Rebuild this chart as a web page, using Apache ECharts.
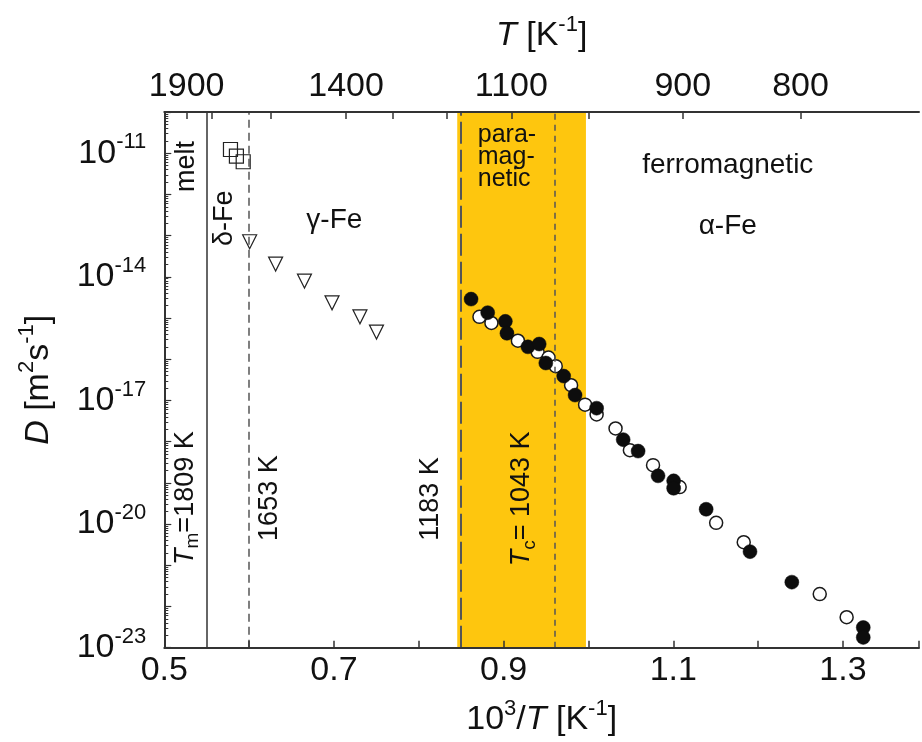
<!DOCTYPE html>
<html><head><meta charset="utf-8">
<script src="https://cdn.jsdelivr.net/npm/echarts@6/dist/echarts.min.js"></script>
<style>html,body{margin:0;padding:0;background:#fff}#c{width:922px;height:742px}</style>
</head><body><div id="c"></div>
<script>
// ---- data ----
// delta-Fe (open squares)
const deltaX = [0.578, 0.585, 0.593];
const deltaD = [1.23e-11, 8.5e-12, 6.2e-12];
// gamma-Fe (open down triangles)
const gammaX = [0.6006, 0.6312, 0.6652, 0.6977, 0.7306, 0.7501];
const gammaD = [7.1e-14, 2.04e-14, 7.9e-15, 2.34e-15, 1.07e-15, 4.57e-16];
// alpha-Fe, filled circles
const alphaFilledX = [0.8616, 0.8812, 0.9020, 0.9039, 0.9286, 0.9419, 0.9497, 0.9708, 0.9842, 1.0096, 1.0409, 1.0585, 1.0820, 1.1004, 1.1004, 1.1387, 1.1904, 1.2397, 1.3239, 1.3239];
const alphaFilledD = [2.88e-15, 1.35e-15, 8.3e-16, 4.27e-16, 2.0e-16, 2.34e-16, 8.1e-17, 3.9e-17, 1.35e-17, 6.5e-18, 1.12e-18, 5.9e-19, 1.48e-19, 1.12e-19, 7.4e-20, 2.29e-20, 2.14e-21, 3.9e-22, 3.09e-23, 1.78e-23];
// alpha-Fe, open circles
const alphaOpenX = [0.8715, 0.8856, 0.9168, 0.9400, 0.9529, 0.9614, 0.9795, 0.9960, 1.0096, 1.0319, 1.0488, 1.0761, 1.1075, 1.1505, 1.1830, 1.2726, 1.3043];
const alphaOpenD = [1.07e-15, 7.6e-16, 2.82e-16, 1.51e-16, 1.10e-16, 6.8e-17, 2.34e-17, 7.9e-18, 4.57e-18, 2.09e-18, 6.2e-19, 2.69e-19, 7.9e-20, 1.07e-20, 3.63e-21, 2.0e-22, 5.5e-23];
// transition temperatures [K]
const T_melt = 1809, T_delta = 1653, T_gamma = 1183, T_curie = 1043, T_paraEnd = 1003;
// tick labels
const xTickLabels = [0.5, 0.7, 0.9, 1.1, 1.3];
const topLabelT = [1900, 1400, 1100, 900, 800];
const topTickT = [1900, 1800, 1600, 1400, 1300, 1200, 1100, 1000, 900, 800];
const yLabelExp = [-23, -20, -17, -14, -11];

// ---- styling ----
const FONT = '"Liberation Sans", Arial, Helvetica, sans-serif';
const TXT = '#111';
const AX = '#333';
const X_MIN = 0.5, X_MAX = 1.3896;
const rich34 = {
  n: {fontSize: 34, fontFamily: FONT, color: TXT, lineHeight: 44},
  i: {fontSize: 34, fontFamily: FONT, color: TXT, fontStyle: 'italic', lineHeight: 44},
  s: {fontSize: 22, fontFamily: FONT, color: TXT, lineHeight: 24, verticalAlign: 'top'}
};
const rich27 = {
  n: {fontSize: 27, fontFamily: FONT, color: TXT, lineHeight: 34},
  i: {fontSize: 27, fontFamily: FONT, color: TXT, fontStyle: 'italic', lineHeight: 34},
  b: {fontSize: 19, fontFamily: FONT, color: TXT, lineHeight: 20, verticalAlign: 'bottom'}
};

// the y axis is a base-10 logarithmic axis: values are plotted as log10(D)
const L = Math.log10;
const minorY = [];
for (let k = -23; k <= -11; k++) for (let m = 2; m <= 9; m++) minorY.push(k + L(m));

const annotations = [
  {t: 'melt', x: 0.5267, e: -11.32, rot: 90, fs: 27},
  {t: 'δ-Fe', x: 0.5713, e: -12.58, rot: 90, fs: 27},
  {t: 'γ-Fe', x: 0.7004, e: -12.63, rot: 0, fs: 28},
  {t: 'para-\nmag-\nnetic', x: 0.8695, e: -11.09, rot: 0, fs: 25, align: 'left', lh: 22},
  {t: 'ferromagnetic', x: 1.1642, e: -11.29, rot: 0, fs: 28},
  {t: 'α-Fe', x: 1.1642, e: -12.77, rot: 0, fs: 28},
  {r: '{i|T}{b|m}{n|=1809 K}', x: 0.5245, e: -19.37, rot: 90},
  {t: '1653 K', x: 0.6241, e: -19.37, rot: 90, fs: 27},
  {t: '1183 K', x: 0.8143, e: -19.39, rot: 90, fs: 27},
  {r: '{i|T}{b|c}{n|= 1043 K}', x: 0.9215, e: -19.39, rot: 90}
];

const annData = annotations.map(a => ({
  value: [a.x, a.e],
  label: a.r ? {
    show: true, position: 'inside', rotate: a.rot, formatter: a.r, rich: rich27,
    opacity: 1, textBorderWidth: 0
  } : {
    show: true, position: 'inside', rotate: a.rot, formatter: a.t,
    fontSize: a.fs, fontFamily: FONT, color: TXT, opacity: 1, textBorderWidth: 0,
    align: a.align || 'center', verticalAlign: 'middle',
    lineHeight: a.lh || Math.round(a.fs * 1.2)
  }
}));

const zipLog = (xs, ds) => xs.map((x, i) => [x, L(ds[i])]);

const option = {
  animation: false,
  backgroundColor: '#fff',
  grid: {left: 164.3, top: 112, right: 0, bottom: 94.3, containLabel: false},
  xAxis: [
    {
      type: 'value', position: 'bottom', min: X_MIN, max: X_MAX, interval: 0.1, z: 10,
      axisLine: {show: true, lineStyle: {color: AX, width: 2}},
      axisTick: {show: true, inside: true, length: 7, lineStyle: {color: AX, width: 1.5}},
      splitLine: {show: false},
      axisLabel: {
        margin: 6, fontSize: 34, fontFamily: FONT, color: TXT,
        formatter: v => xTickLabels.some(t => Math.abs(t - v) < 1e-6) ? v.toFixed(1) : ''
      },
      name: '{n|10}{s|3}{n|/}{i|T}{n| [K}{s|-1}{n|]}',
      nameLocation: 'middle', nameGap: 50,
      nameTextStyle: {rich: rich34}
    },
    {
      type: 'value', position: 'top', min: X_MIN, max: X_MAX, z: 10,
      axisLine: {show: true, lineStyle: {color: AX, width: 2}},
      axisTick: {show: true, inside: true, length: 7, lineStyle: {color: AX, width: 1.5},
        customValues: topTickT.map(T => 1000 / T)},
      splitLine: {show: false},
      axisLabel: {
        margin: 8, fontSize: 34, fontFamily: FONT, color: TXT,
        customValues: topLabelT.map(T => 1000 / T),
        formatter: v => String(Math.round(1000 / v))
      },
      name: '{i|T}{n| [K}{s|-1}{n|]}',
      nameLocation: 'middle', nameGap: 54,
      nameTextStyle: {rich: rich34}
    }
  ],
  yAxis: [
    {
      type: 'value', min: -23, max: -10, interval: 1, position: 'left', z: 10,
      axisLine: {show: true, lineStyle: {color: AX, width: 2}},
      axisTick: {show: true, inside: true, length: 7, lineStyle: {color: AX, width: 1.2}},
      splitLine: {show: false},
      axisLabel: {
        margin: 18,
        formatter: v => {
          const e = Math.round(v);
          return yLabelExp.includes(e) ? '{n|10}{s|' + e + '}' : '';
        },
        rich: rich34
      },
      name: '{i|D}{n| [m}{s|2}{n|s}{s|-1}{n|]}',
      nameLocation: 'middle', nameGap: 104, nameRotate: 90,
      nameTextStyle: {rich: rich34}
    },
    {
      type: 'value', min: -23, max: -10, position: 'left', z: 10,
      axisLine: {show: false},
      axisTick: {show: true, inside: true, length: 4, lineStyle: {color: AX, width: 1},
        customValues: minorY},
      axisLabel: {show: false},
      splitLine: {show: false}
    }
  ],
  series: [
    {
      name: 'guides', type: 'scatter', data: [], z: 1, silent: true,
      markArea: {
        silent: true,
        itemStyle: {color: '#FEC60E', opacity: 1},
        data: [[{xAxis: 1000 / T_gamma}, {xAxis: 1000 / T_paraEnd}]]
      },
      markLine: {
        silent: true, symbol: ['none', 'none'], label: {show: false},
        data: [
          {xAxis: 1000 / T_melt, lineStyle: {color: '#333', width: 1.5, type: 'solid', opacity: 1}},
          {xAxis: 1000 / T_delta, lineStyle: {color: '#555', width: 1.5, type: [8, 5], opacity: 1}},
          {xAxis: 1000 / T_gamma, lineStyle: {color: '#555', width: 2, type: [22, 6], opacity: 1}},
          {xAxis: 1000 / T_curie, lineStyle: {color: '#555', width: 1.5, type: [6, 5], opacity: 1}}
        ]
      }
    },
    {
      name: 'alpha open', type: 'scatter', z: 3, symbol: 'circle', symbolSize: 13,
      itemStyle: {color: '#fff', borderColor: '#1a1a1a', borderWidth: 1.5, opacity: 1},
      data: zipLog(alphaOpenX, alphaOpenD)
    },
    {
      name: 'alpha filled', type: 'scatter', z: 4, symbol: 'circle', symbolSize: 14,
      itemStyle: {color: '#0d0d0d', borderColor: '#0d0d0d', borderWidth: 0.5, opacity: 1},
      data: zipLog(alphaFilledX, alphaFilledD)
    },
    {
      name: 'delta', type: 'scatter', z: 4, symbol: 'rect', symbolSize: 14,
      itemStyle: {color: 'rgba(255,255,255,0)', borderColor: '#222', borderWidth: 1.2, opacity: 1},
      data: zipLog(deltaX, deltaD)
    },
    {
      name: 'gamma', type: 'scatter', z: 4, symbol: 'triangle', symbolRotate: 180, symbolSize: 14,
      itemStyle: {color: '#fff', borderColor: '#222', borderWidth: 1.2, opacity: 1},
      data: zipLog(gammaX, gammaD)
    },
    {
      name: 'annotations', type: 'scatter', z: 5, symbolSize: 1, silent: true,
      itemStyle: {color: 'rgba(0,0,0,0)', opacity: 1},
      labelLayout: {hideOverlap: false},
      data: annData
    }
  ]
};
const chart = echarts.init(document.getElementById('c'));
chart.setOption(option);
</script>
</body></html>
